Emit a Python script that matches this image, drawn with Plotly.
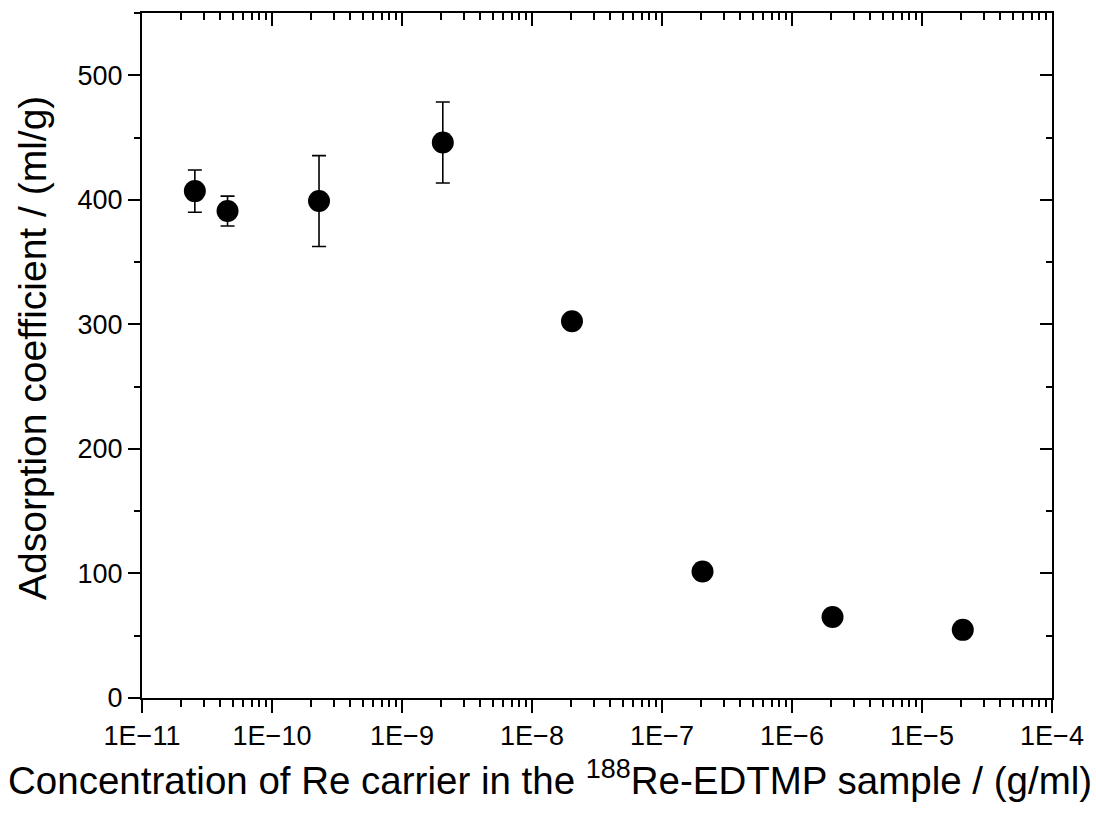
import plotly.graph_objects as go

conc = [2.55e-11, 4.55e-11, 2.3e-10, 2.06e-9, 2.03e-8, 2.05e-7, 2.05e-6, 2.06e-5]
kd = [407, 391, 399, 446, 302.5, 101.5, 65, 54.7]
kd_err = [17, 12, 36.5, 32.5, None, None, None, None]

decades = list(range(-11, -3))
major_vals = [10.0 ** d for d in decades]
major_text = ["1E\u2212" + str(-d) for d in decades]
minor_vals = [k * 10.0 ** d for d in decades[:-1] for k in range(2, 10)]
y_major = [0, 100, 200, 300, 400, 500]
y_minor = [50, 150, 250, 350, 450, 550]

FONT = "Liberation Sans, Arial, sans-serif"

fig = go.Figure()
fig.add_trace(go.Scatter(
    x=conc, y=kd, mode="markers",
    marker=dict(symbol="circle", size=22, color="black"),
    error_y=dict(type="data", array=kd_err, visible=True, color="black",
                 thickness=1.6, width=7),
    showlegend=False, cliponaxis=False,
))
fig.add_trace(go.Scatter(x=[conc[0]], y=[kd[0]], xaxis="x2", yaxis="y2",
                         mode="markers", marker=dict(opacity=0),
                         showlegend=False, hoverinfo="skip"))

common_x = dict(type="log", range=[-11, -4], showgrid=False, zeroline=False,
                showline=True, linecolor="black", linewidth=2,
                tickvals=major_vals, tickwidth=2, tickcolor="black")
fig.update_layout(
    width=1096, height=817,
    margin=dict(l=142, r=37, t=13, b=119),
    paper_bgcolor="white", plot_bgcolor="white",
    font=dict(family=FONT, color="black", size=27),
    xaxis=dict(**common_x, ticktext=major_text, ticks="outside", ticklen=13,
               tickfont=dict(size=27),
               minor=dict(tickvals=minor_vals, ticks="outside", ticklen=7,
                          tickwidth=2, tickcolor="black", showgrid=False)),
    xaxis2=dict(**common_x, overlaying="x", side="top", anchor="y",
                ticks="inside", ticklen=13, showticklabels=False,
                minor=dict(tickvals=minor_vals, ticks="inside", ticklen=7,
                           tickwidth=2, tickcolor="black", showgrid=False)),
    yaxis=dict(range=[0, 550], showgrid=False, zeroline=False, showline=True,
               linecolor="black", linewidth=2, tickvals=y_major,
               ticks="outside", ticklen=12, tickwidth=2, tickcolor="black",
               tickfont=dict(size=27),
               minor=dict(tickvals=y_minor, ticks="outside", ticklen=6,
                          tickwidth=2, tickcolor="black", showgrid=False)),
    yaxis2=dict(range=[0, 550], overlaying="y", side="right", anchor="x",
                showgrid=False, zeroline=False, showline=True,
                linecolor="black", linewidth=2, tickvals=y_major,
                ticks="inside", ticklen=12, tickwidth=2, tickcolor="black",
                showticklabels=False,
                minor=dict(tickvals=y_minor, ticks="inside", ticklen=6,
                           tickwidth=2, tickcolor="black", showgrid=False)),
    annotations=[
        dict(
            text="Concentration of Re carrier in the <sup>188</sup>Re-EDTMP sample / (g/ml)",
            xref="paper", yref="paper", x=(553 - 142) / 917, y=0,
            yshift=-80, xanchor="center", yanchor="middle", showarrow=False,
            font=dict(size=38.5),
        ),
        dict(
            text="Adsorption coefficient / (ml/g)",
            xref="paper", yref="paper", x=0, y=(698 - 348) / 685,
            xshift=-109, xanchor="center", yanchor="middle", showarrow=False,
            textangle=-90, font=dict(size=39),
        ),
    ],
)

fig.write_html("out.html")
